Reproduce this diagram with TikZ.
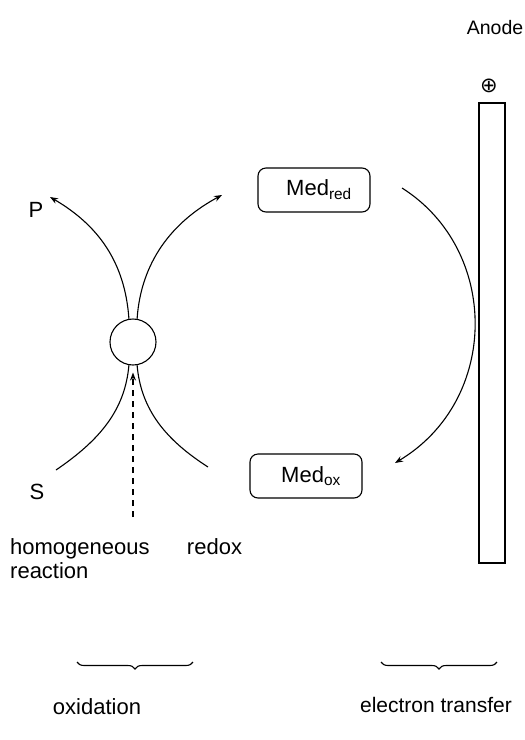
\documentclass[tikz,border=0pt]{standalone}
\usepackage{fontspec}
\setmainfont{Liberation Sans}
\newfontfamily\symfont{DejaVu Sans}
\usetikzlibrary{arrows.meta,decorations.pathreplacing}
\begin{document}
\begin{tikzpicture}[x=1pt,y=-1pt,
  every node/.style={font=\fontsize{22}{24}\selectfont},
  ln/.style={line width=1.1pt},
  arr/.style={ln,-{Stealth[length=8pt,width=6pt]}},
  medbox/.style={draw,ln,rounded corners=8pt,minimum width=112pt,minimum height=44pt,inner sep=0pt},
  brc/.style={ln,decorate,decoration={brace,mirror,amplitude=7pt}}]
\useasboundingbox (0,0) rectangle (525,740);
\node[font=\fontsize{19.5}{21}\selectfont] (anodelbl) at (495,28) {Anode};
\node[font=\symfont\fontsize{21}{22}\selectfont] (plus) at (489,86) {⊕};
\node[draw,ln,minimum width=26pt,minimum height=460pt,inner sep=0pt] (anode) at (492,333) {};
\node[medbox] (mr) at (314,190) {\hspace*{10pt}Med\textsubscript{red}};
\node[medbox] (mo) at (306,476) {\hspace*{10pt}Med\textsubscript{ox}};
\node[draw,ln,circle,minimum size=46pt,inner sep=0pt] (c) at (133,342) {};
\node (P) at (36,210) {P};
\node (S) at (37,492) {S};
\coordinate (pend) at (50,197);
\coordinate (rend) at (222,195);
\coordinate (sstart) at (56,470);
\coordinate (bstart) at (208,467);
\coordinate (dstart) at (133,517);
\coordinate (a1) at (402,188);
\coordinate (a2) at (395,463);
\draw[arr] (c.100) .. controls (125,262) and (98,225) .. (pend);
\draw[arr] (c.80) .. controls (141,262) and (172,222) .. (rend);
\draw[ln] (sstart) .. controls (100,440) and (125,410) .. (c.260);
\draw[ln] (bstart) .. controls (166,440) and (141,410) .. (c.280);
\draw[arr,dash pattern=on 6pt off 5pt] (dstart) -- ([yshift=-7pt]c.south);
\draw[arr] (a1) .. controls (500,250) and (500,400) .. (a2);
\node[anchor=west,align=left,inner sep=0pt] (hom) at (10,559) {homogeneous\hspace{1.7em}redox\\reaction};
\coordinate (b1l) at (77,662);
\coordinate (b1r) at (193,662);
\coordinate (b2l) at (381,662);
\coordinate (b2r) at (497,662);
\draw[brc] (b1l) -- (b1r);
\draw[brc] (b2l) -- (b2r);
\node (ox) at (97,707) {oxidation};
\node[font=\fontsize{21}{23}\selectfont] (et) at (436,705) {electron transfer};
\end{tikzpicture}
\end{document}
